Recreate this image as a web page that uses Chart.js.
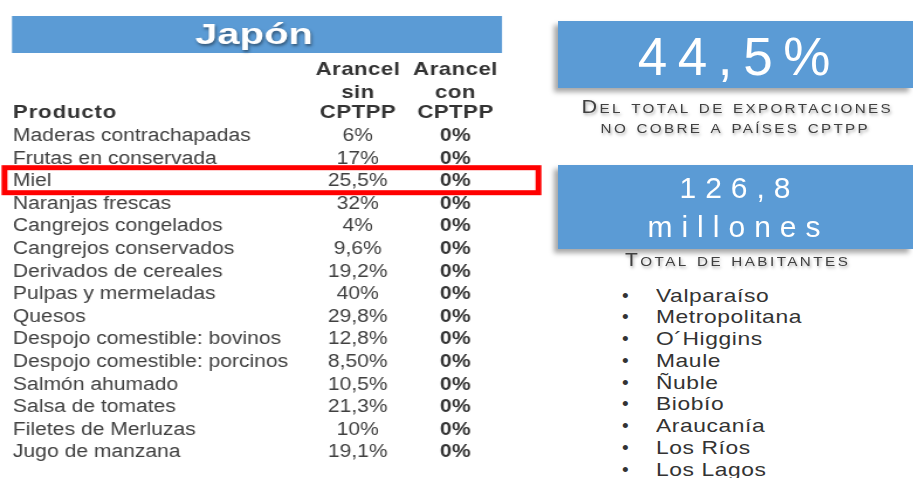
<!DOCTYPE html>
<html lang="es">
<head>
<meta charset="utf-8">
<script src="https://cdn.jsdelivr.net/npm/chart.js@4.4.1/dist/chart.umd.min.js"></script>
<style>
html,body{margin:0;padding:0;background:#fff;width:913px;height:478px;overflow:hidden;
  font-family:"Liberation Sans",Arial,Helvetica,sans-serif;}
#c{position:absolute;left:0;top:0;transform:scaleX(1.17);transform-origin:0 0;}
.box{position:absolute;left:558px;width:355px;background:#5B9BD5;box-shadow:-4px 4px 5px rgba(0,0,0,0.35);}
.t{position:absolute;white-space:nowrap;}
.t span{display:inline-block;}
</style>
</head>
<body>
<canvas id="c" width="466" height="478"></canvas>
<div id="derecha"></div>
<script>
// ---------------- DATA ----------------
const titulo = 'Japón';
const encabezadoProducto = 'Producto';
const encabezadosArancel = [['Arancel', 'sin', 'CPTPP'], ['Arancel', 'con', 'CPTPP']];
const productos = [
  'Maderas contrachapadas', 'Frutas en conservada', 'Miel', 'Naranjas frescas',
  'Cangrejos congelados', 'Cangrejos conservados', 'Derivados de cereales',
  'Pulpas y mermeladas', 'Quesos', 'Despojo comestible: bovinos',
  'Despojo comestible: porcinos', 'Salmón ahumado', 'Salsa de tomates',
  'Filetes de Merluzas', 'Jugo de manzana'
];
const arancelSinCPTPP = [6, 17, 25.5, 32, 4, 9.6, 19.2, 40, 29.8, 12.8, 8.5, 10.5, 21.3, 10, 19.1];
const arancelSinTexto = ['6%', '17%', '25,5%', '32%', '4%', '9,6%', '19,2%', '40%', '29,8%', '12,8%', '8,50%', '10,5%', '21,3%', '10%', '19,1%'];
const arancelConCPTPP = [0, 0, 0, 0, 0, 0, 0, 0, 0, 0, 0, 0, 0, 0, 0];
const arancelConTexto = ['0%', '0%', '0%', '0%', '0%', '0%', '0%', '0%', '0%', '0%', '0%', '0%', '0%', '0%', '0%'];
const productoResaltado = 'Miel';
const cifraExportaciones = '44,5%';
const textoExportaciones = ['Del total de exportaciones', 'no cobre a países cptpp'];
const cifraHabitantes = ['126,8', 'millones'];
const textoHabitantes = 'Total de habitantes';
const regiones = ['Valparaíso', 'Metropolitana', 'O´Higgins', 'Maule', 'Ñuble', 'Biobío', 'Araucanía', 'Los Ríos', 'Los Lagos'];

// ---------------- TABLE (Chart.js) ----------------
const FAM = '"Liberation Sans", Arial, Helvetica, sans-serif';
const AZUL = '#5B9BD5';
const SX = 1.17; // horizontal stretch of the slide

function texto(ctx, s, x, y, font, color, ls, align) {
  ctx.font = font;
  ctx.fillStyle = color;
  ctx.letterSpacing = ls + 'px';
  ctx.textAlign = align || 'left';
  ctx.fillText(s, x + (align === 'center' ? ls / 2 : 0), y);
}

const tablaPlugin = {
  id: 'tabla',
  beforeDraw(chart) {
    chart.ctx.letterSpacing = '0px';
  },
  afterDraw(chart) {
    const ctx = chart.ctx;
    const xs = chart.scales.x, ys = chart.scales.y;
    ctx.save();
    // title bar
    ctx.fillStyle = AZUL;
    ctx.fillRect(12 / SX, 16, 490 / SX, 37);
    ctx.save();
    ctx.translate(254 / SX, 44);
    ctx.scale(1.38 / SX, 1);
    ctx.shadowColor = 'rgba(0,0,0,0.45)';
    ctx.shadowBlur = 3;
    ctx.shadowOffsetX = 1;
    ctx.shadowOffsetY = 2;
    ctx.textBaseline = 'alphabetic';
    texto(ctx, titulo, 0, 0, 'bold 29px ' + FAM, '#ffffff', 0, 'center');
    ctx.restore();

    // headers
    ctx.textBaseline = 'alphabetic';
    texto(ctx, encabezadoProducto, 13 / SX, 118, 'bold 19px ' + FAM, '#333333', 0.7, 'left');
    const lineas = [75, 97.5, 118];
    encabezadosArancel.forEach((col, j) => {
      const x = xs.getPixelForValue(j);
      col.forEach((s, k) => texto(ctx, s, x, lineas[k], 'bold 19px ' + FAM, '#333333', 0.4, 'center'));
    });

    // values
    ctx.textBaseline = 'middle';
    const etiquetas = [arancelSinTexto, arancelConTexto];
    chart.data.datasets.forEach((ds, d) => {
      const meta = chart.getDatasetMeta(d);
      meta.data.forEach((pt, i) => {
        if (d === 0) texto(ctx, etiquetas[d][i], pt.x, pt.y, '18px ' + FAM, '#404040', 0, 'center');
        else texto(ctx, etiquetas[d][i], pt.x, pt.y, 'bold 18px ' + FAM, '#333333', 0.3, 'center');
      });
    });

    // highlight box
    const yc = ys.getPixelForValue(productos.indexOf(productoResaltado));
    ctx.strokeStyle = '#FF0000';
    ctx.lineWidth = 5;
    ctx.strokeRect(4.5 / SX, yc - 13.5, 534 / SX, 25);
    ctx.restore();
  }
};

new Chart(document.getElementById('c'), {
  type: 'scatter',
  data: {
    labels: productos,
    datasets: [
      { label: 'Arancel sin CPTPP', data: arancelSinCPTPP.map((v, i) => ({ x: 0, y: productos[i], v })), pointRadius: 0 },
      { label: 'Arancel con CPTPP', data: arancelConCPTPP.map((v, i) => ({ x: 1, y: productos[i], v })), pointRadius: 0 }
    ]
  },
  options: {
    responsive: false,
    devicePixelRatio: 1,
    animation: false,
    events: [],
    layout: { padding: { left: 13 / SX, right: 466 - 504 / SX, top: 136, bottom: 25.6 } },
    plugins: { legend: { display: false }, tooltip: { enabled: false } },
    scales: {
      x: { type: 'linear', min: -0.5, max: 1.5, display: false },
      y: {
        type: 'category',
        labels: productos,
        offset: false,
        grid: { display: false, drawTicks: false },
        border: { display: false },
        afterFit: s => { s.width = 296 / SX; },
        ticks: {
          autoSkip: false,
          crossAlign: 'far',
          color: '#404040',
          font: { family: FAM, size: 18 }
        }
      }
    }
  },
  plugins: [tablaPlugin]
});

// ---------------- RIGHT PANEL ----------------
const der = document.getElementById('derecha');
function caja(top, h) {
  const d = document.createElement('div');
  d.className = 'box';
  d.style.top = top + 'px';
  d.style.height = h + 'px';
  der.appendChild(d);
}
function linea(s, baseline, size, opts) {
  const d = document.createElement('div');
  d.className = 't';
  const sp = document.createElement('span');
  sp.textContent = s;
  const ls = opts.ls || 0;
  const sx = opts.sx || 1;
  d.style.fontSize = size + 'px';
  d.style.lineHeight = size + 'px';
  d.style.top = (baseline - 0.8465 * size) + 'px';
  sp.style.letterSpacing = ls + 'px';
  d.style.color = opts.color;
  if (opts.weight) d.style.fontWeight = opts.weight;
  if (opts.caps) d.style.fontVariant = 'small-caps';
  if (opts.shadow) d.style.textShadow = opts.shadow;
  if (opts.center !== undefined) {
    d.style.left = (opts.center - 200) + 'px';
    d.style.width = '400px';
    d.style.textAlign = 'center';
    sp.style.paddingLeft = ls + 'px';
    sp.style.transformOrigin = '50% 50%';
  } else {
    d.style.left = opts.left + 'px';
    sp.style.transformOrigin = '0 50%';
  }
  sp.style.transform = 'scaleX(' + sx + ')';
  d.appendChild(sp);
  der.appendChild(d);
}
const sombra = '1px 2px 3px rgba(0,0,0,0.35)';
caja(21, 67);
linea(cifraExportaciones, 75, 53, { ls: 10.6, color: '#ffffff', center: 734 });
linea(textoExportaciones[0], 114, 18.5, { ls: 2, sx: 1.17, color: '#404040', caps: true, shadow: sombra, center: 736 });
linea(textoExportaciones[1], 133.5, 18.5, { ls: 2, sx: 1.17, color: '#404040', caps: true, shadow: sombra, center: 734 });
caja(165, 84);
linea(cifraHabitantes[0], 198, 30, { ls: 9, color: '#ffffff', center: 735 });
linea(cifraHabitantes[1], 237, 30, { ls: 9, color: '#ffffff', center: 734 });
linea(textoHabitantes, 266, 18, { ls: 2.1, sx: 1.17, color: '#404040', caps: true, shadow: sombra, center: 736 });
regiones.forEach((r, i) => {
  const b = 301.7 + i * 21.75;
  linea('•', b, 19, { color: '#333333', left: 622 });
  linea(r, b, 19, { ls: 0.5, sx: 1.2, color: '#333333', left: 656 });
});
</script>
</body>
</html>
